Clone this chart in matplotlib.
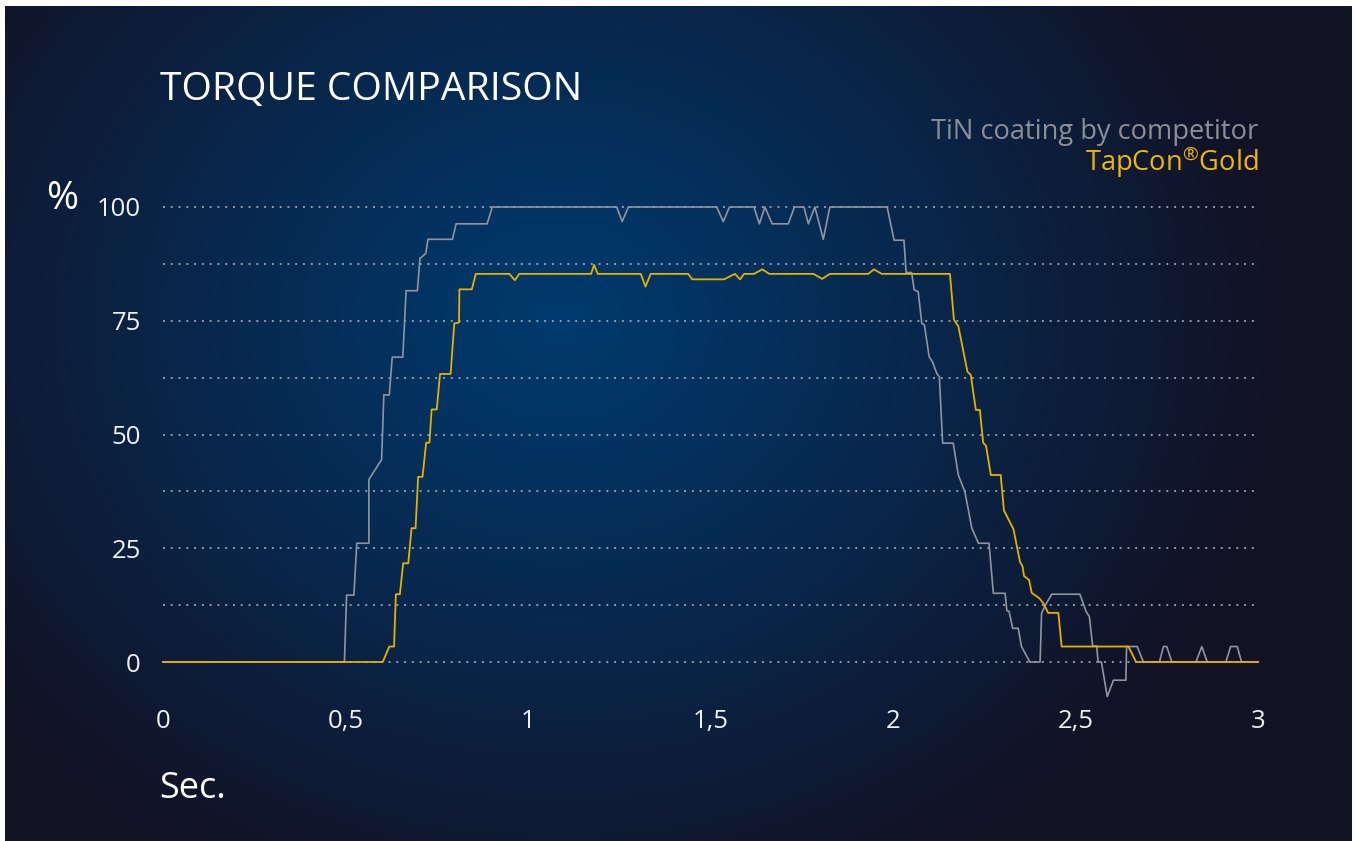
import numpy as np
import matplotlib.pyplot as plt

# torque curves (time in s, torque in %)
tin_t = [0, 0.497, 0.503, 0.523, 0.531, 0.564, 0.564, 0.599, 0.605, 0.620, 0.628, 0.657, 0.666,
         0.697, 0.704, 0.720, 0.726, 0.793, 0.803, 0.888, 0.902, 1.243, 1.258, 1.275, 1.517,
         1.535, 1.552, 1.619, 1.634, 1.649, 1.669, 1.713, 1.730, 1.756, 1.768, 1.786, 1.809,
         1.827, 1.984, 2.003, 2.030, 2.036, 2.051, 2.058, 2.069, 2.079, 2.086, 2.099, 2.108,
         2.120, 2.127, 2.136, 2.165, 2.179, 2.197, 2.216, 2.234, 2.263, 2.275, 2.307, 2.312,
         2.318, 2.328, 2.343, 2.352, 2.375, 2.403, 2.407, 2.416, 2.435, 2.512, 2.529, 2.538,
         2.547, 2.558, 2.562, 2.571, 2.587, 2.604, 2.638, 2.640, 2.669, 2.686, 2.730, 2.741,
         2.750, 2.764, 2.830, 2.846, 2.861, 2.912, 2.925, 2.943, 2.955, 3.0]
tin_v = [0, 0, 14.7, 14.7, 26.1, 26.1, 40.1, 44.5, 58.7, 58.7, 67.0, 67.0, 81.6,
         81.6, 88.7, 89.8, 92.9, 92.9, 96.3, 96.3, 100, 100, 96.8, 100, 100,
         96.8, 100, 100, 96.3, 100, 96.3, 96.3, 100, 100, 96.3, 100, 92.9,
         100, 100, 92.7, 92.7, 85.6, 85.6, 81.8, 81.4, 74.4, 74.1, 67.1, 66.0,
         63.4, 62.7, 48.1, 48.1, 41.1, 37.4, 29.4, 26.1, 26.1, 15.1, 15.1, 11.3,
         11.1, 7.4, 7.4, 3.4, 0, 0, 10.7, 12.3, 14.9, 14.9, 11.1, 10.0,
         3.5, 3.5, 0, 0, -7.6, -4.0, -4.0, 3.4, 3.4, 0, 0, 3.4,
         3.4, 0, 0, 3.4, 0, 0, 3.4, 3.4, 0, 0]

gold_t = [0, 0.602, 0.620, 0.633, 0.638, 0.649, 0.658, 0.672, 0.681, 0.692, 0.699, 0.711, 0.721,
          0.730, 0.736, 0.750, 0.759, 0.788, 0.798, 0.811, 0.812, 0.846, 0.857, 0.949, 0.964,
          0.976, 1.173, 1.181, 1.191, 1.309, 1.322, 1.336, 1.439, 1.450, 1.537, 1.567, 1.581,
          1.592, 1.619, 1.642, 1.661, 1.782, 1.806, 1.827, 1.932, 1.948, 1.969, 2.156, 2.167,
          2.179, 2.204, 2.213, 2.227, 2.238, 2.247, 2.255, 2.268, 2.295, 2.304, 2.330, 2.348,
          2.355, 2.359, 2.373, 2.380, 2.401, 2.412, 2.425, 2.453, 2.462, 2.645, 2.666, 3.0]
gold_v = [0, 0, 3.4, 3.4, 14.9, 14.9, 21.7, 21.7, 29.4, 29.4, 40.7, 40.7, 48.2,
          48.2, 55.5, 55.5, 63.3, 63.3, 74.4, 74.6, 81.9, 81.9, 85.3, 85.3, 83.9,
          85.3, 85.3, 87.3, 85.3, 85.3, 82.5, 85.3, 85.3, 84.1, 84.1, 85.3, 84.1,
          85.3, 85.3, 86.3, 85.3, 85.3, 84.2, 85.3, 85.3, 86.3, 85.3, 85.3, 75.2,
          73.8, 63.8, 63.1, 55.4, 55.4, 48.2, 47.5, 41.1, 41.1, 33.3, 29.2, 22.0,
          21.0, 18.9, 18.0, 15.2, 14.0, 12.9, 10.8, 10.8, 3.4, 3.4, 0, 0]

x_ticks = [0, 0.5, 1, 1.5, 2, 2.5, 3]
x_labels = ['0', '0,5', '1', '1,5', '2', '2,5', '3']
y_ticks = [0, 25, 50, 75, 100]
y_minor = [12.5, 37.5, 62.5, 87.5]

W, H = 1356, 841
GRAY = '#8f959f'
GOLD = '#e6b000'
FONT = 'Open Sans'

plt.rcParams['font.family'] = [FONT, 'DejaVu Sans']
plt.rcParams['mathtext.fontset'] = 'custom'
plt.rcParams['mathtext.rm'] = FONT

fig = plt.figure(figsize=(W / 100, H / 100), dpi=100)
fig.patch.set_facecolor('white')

# radial navy gradient background with thin white frame
yy, xx = np.mgrid[0:H, 0:W]
d = np.sqrt(((xx - 560) / 720.0) ** 2 + ((yy - 320) / 620.0) ** 2)
d = np.clip(d, 0, 1) ** 1.1
c0 = np.array([0x00, 0x3a, 0x6e]) / 255
c1 = np.array([0x12, 0x12, 0x25]) / 255
img = c0[None, None, :] * (1 - d[..., None]) + c1[None, None, :] * d[..., None]
mask = (xx < 5) | (xx >= 1352) | (yy < 6)
img[mask] = 1.0
bg = fig.add_axes([0, 0, 1, 1])
bg.imshow(img, aspect='auto', interpolation='bilinear')
bg.axis('off')

# plot area: x 0..3 -> px 163..1258, y 0..100 -> px 662..207
ylo, yhi = -9, 102
ppu = 4.55
bot_px = 662 - ylo * ppu
top_px = 207 - (yhi - 100) * ppu
ax = fig.add_axes([163 / W, 1 - bot_px / H, 1095 / W, (bot_px - top_px) / H])
ax.set_facecolor('none')
ax.set_xlim(0, 3)
ax.set_ylim(ylo, yhi)
for s in ax.spines.values():
    s.set_visible(False)

ax.set_yticks(y_ticks)
ax.set_yticklabels([str(v) for v in y_ticks])
ax.set_yticks(y_minor, minor=True)
ax.set_xticks(x_ticks)
ax.set_xticklabels(x_labels)
ax.tick_params(axis='both', which='both', length=0, colors='#eef1f5', labelsize=18.5)
ax.tick_params(axis='y', pad=16)
ax.tick_params(axis='x', pad=4)
ax.grid(axis='y', which='both', color='#a7b0bd', linestyle=(0, (1, 3)), linewidth=1.4, alpha=0.85)
ax.grid(axis='x', visible=False)

ax.plot(tin_t, tin_v, color=GRAY, linewidth=1.2, clip_on=False, zorder=3)
ax.plot(gold_t, gold_v, color=GOLD, linewidth=1.3, clip_on=False, zorder=4)

def px(x, y):
    return x / W, 1 - y / H

fig.text(*px(160, 100), 'TORQUE COMPARISON', color='white', fontsize=28.2, va='baseline', ha='left')
fig.text(*px(1258, 139), 'TiN coating by competitor', color='#8b8f97', fontsize=19.6,
         va='baseline', ha='right')
fig.text(*px(1258, 171), r'TapCon$^{\mathrm{®}}$Gold', color='#f4b700', fontsize=19.6,
         va='baseline', ha='right')
fig.text(*px(46, 209), '%', color='white', fontsize=28, va='baseline', ha='left')
fig.text(*px(159, 798), 'Sec.', color='white', fontsize=26, va='baseline', ha='left')

fig.savefig('out.png', dpi=100)
